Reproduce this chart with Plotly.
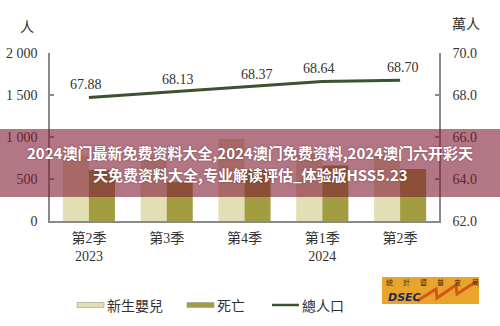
import plotly.graph_objects as go

# Quarterly births, deaths and total population
quarters = ["第2季<br>2023", "第3季", "第4季", "第1季<br>2024", "第2季"]
births = [776, 768, 975, 800, 790]
deaths = [607, 465, 610, 660, 619]
population = [67.88, 68.13, 68.37, 68.64, 68.70]

left_tick_vals = [0, 500, 1000, 1500, 2000]
left_tick_text = ["0", "500", "1 000", "1 500", "2 000"]
right_tick_vals = [62, 64, 66, 68, 70]
right_tick_text = ["62.0", "64.0", "66.0", "68.0", "70.0"]

series_names = ["新生嬰兒", "死亡", "總人口"]
left_unit = "人"
right_unit = "萬人"
banner_lines = [
    "2024澳门最新免费资料大全,2024澳门免费资料,2024澳门六开彩天",
    "天免费资料大全,专业解读评估_体验版HSS5.23",
]
logo_chars = ["統", "計", "暨", "普", "查", "局"]
logo_text = "DSEC"

LIGHT = "#E2DFB4"
OLIVE = "#A19D40"
LINE = "#3C5230"
AXIS = "#8A8A8A"
TEXT = "#333333"
SERIF = "Liberation Serif, 'Noto Sans CJK TC', serif"
CJK = "'Noto Sans CJK TC', sans-serif"

W, H = 500, 326
ML, MR, MT, MB = 50, 61, 53, 105
PW, PH = W - ML - MR, H - MT - MB


def px(x):
    return (x - ML) / PW


def py(y):
    return (H - MB - y) / PH


def note(text, x, y, size=14, family=CJK, color=TEXT, xanchor="center", **kw):
    return dict(text=text, x=px(x), y=py(y), xref="paper", yref="paper",
                xanchor=xanchor, yanchor="middle", showarrow=False,
                font=dict(family=family, size=size, color=color, **kw))


fig = go.Figure()
fig.add_bar(x=quarters, y=births, name=series_names[0], marker_color=LIGHT,
            marker_line_width=0)
fig.add_bar(x=quarters, y=deaths, name=series_names[1], marker_color=OLIVE,
            marker_line_width=0)
fig.add_scatter(x=quarters, y=population, yaxis="y2", name=series_names[2],
                mode="lines", line=dict(color=LINE, width=3))

axis_common = dict(
    showline=True, linecolor=AXIS, linewidth=1.5, showgrid=False, zeroline=False,
    ticks="inside", ticklen=4, tickcolor=AXIS, tickwidth=1.5, automargin=False,
    tickfont=dict(family=SERIF, size=14, color=TEXT), fixedrange=True,
)

fig.update_layout(
    width=W, height=H, autosize=False,
    margin=dict(l=ML, r=MR, t=MT, b=MB, pad=0),
    paper_bgcolor="white", plot_bgcolor="white",
    barmode="group", bargap=0.33, bargroupgap=0,
    showlegend=False,
    xaxis=dict(showline=True, linecolor=AXIS, linewidth=1.5, ticks="",
               ticklabelstandoff=3, automargin=False,
               tickfont=dict(family=SERIF, size=14, color=TEXT), showgrid=False),
    yaxis=dict(range=[0, 2000], tickvals=left_tick_vals, ticktext=left_tick_text,
               ticklabelstandoff=8, **axis_common),
    yaxis2=dict(range=[62, 70], tickvals=right_tick_vals, ticktext=right_tick_text,
                overlaying="y", side="right", ticklabelstandoff=9, **axis_common),
)

shapes = []
annotations = []

# value labels above the population line
label_dx = [-3, 11, 12, -3, 3]
for q, v, dx in zip(quarters, population, label_dx):
    annotations.append(dict(text=f"{v:.2f}", x=q, y=v, xref="x", yref="y2",
                            xanchor="center", yanchor="middle", showarrow=False,
                            xshift=dx, yshift=13,
                            font=dict(family=SERIF, size=14, color=TEXT)))

# axis unit labels
annotations.append(note(left_unit, 27, 26))
annotations.append(note(right_unit, 466, 23))

# legend drawn by hand
legend_y = 305
legend_items = [
    ("bar", LIGHT, 77, series_names[0]),
    ("bar", OLIVE, 187, series_names[1]),
    ("line", LINE, 272, series_names[2]),
]
for kind, color, x0, label in legend_items:
    if kind == "bar":
        shapes.append(dict(type="rect", xref="paper", yref="paper",
                           x0=px(x0), x1=px(x0 + 27), y0=py(legend_y + 2.5), y1=py(legend_y - 2.5),
                           fillcolor=color, line=dict(color="#9A9A80", width=0.6)))
    else:
        shapes.append(dict(type="line", xref="paper", yref="paper",
                           x0=px(x0), x1=px(x0 + 27), y0=py(legend_y), y1=py(legend_y),
                           line=dict(color=color, width=2.5)))
    annotations.append(note(label, x0 + 28, legend_y, xanchor="left"))

# DSEC logo
shapes.append(dict(type="rect", xref="paper", yref="paper",
                   x0=px(382), x1=px(479), y0=py(304), y1=py(277),
                   fillcolor="#E9A42B", line=dict(width=0)))
zig = [(417, 301), (436, 289), (437, 298), (456, 285), (457, 294), (477, 281)]
path = "M " + " L ".join(f"{px(a)},{py(b)}" for a, b in zig)
shapes.append(dict(type="path", xref="paper", yref="paper", path=path,
                   line=dict(color="#D2571C", width=3)))
for i, ch in enumerate(logo_chars):
    annotations.append(note(ch, 389 + i * 17.2, 282, size=7, color="#4A2A10"))
annotations.append(note(f"<b><i>{logo_text}</i></b>", 386, 297, size=11,
                        family="DejaVu Sans, sans-serif", color="#1C2A5C",
                        xanchor="left"))

# translucent banner across the middle
shapes.append(dict(type="rect", xref="paper", yref="paper", layer="above",
                   x0=px(0), x1=px(W), y0=py(197), y1=py(129),
                   fillcolor="rgba(127,27,50,0.6)", line=dict(width=0)))
for text, yc in zip(banner_lines, [152, 174]):
    annotations.append(note(f"<b>{text}</b>", 250, yc, size=15,
                            family="'Noto Sans CJK SC', sans-serif", color="white",
                            shadow="0px 0px 2px rgba(60,0,20,0.45)"))

fig.update_layout(shapes=shapes, annotations=annotations)
fig.write_html("out.html")
